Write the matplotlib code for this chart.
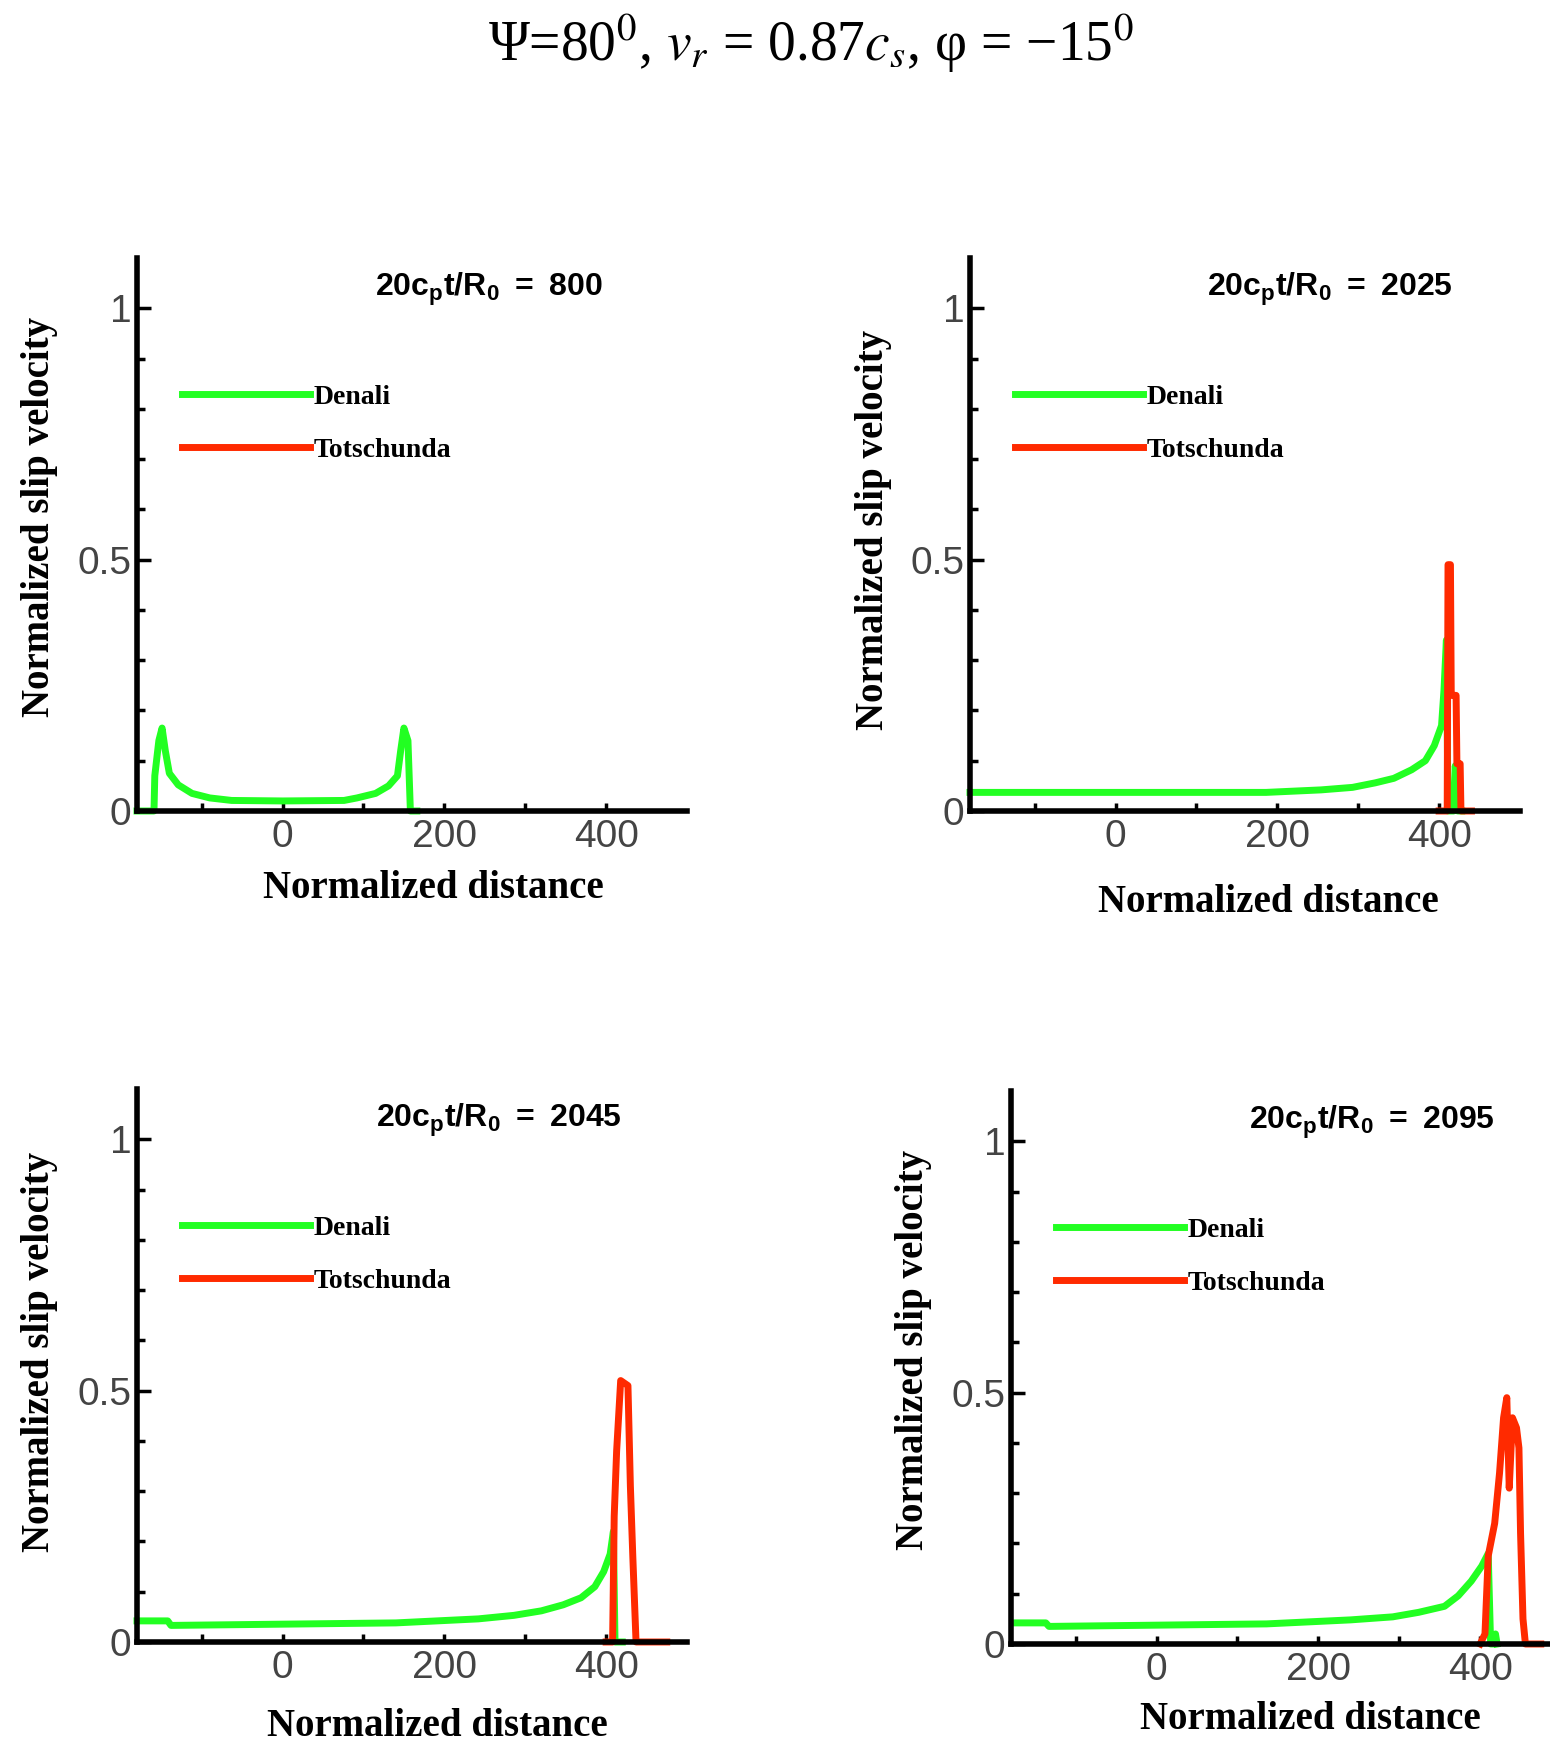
import matplotlib
matplotlib.use("Agg")
import matplotlib.pyplot as plt
from matplotlib.font_manager import FontProperties
from matplotlib.ticker import FixedLocator, FixedFormatter

plt.rcParams["mathtext.fontset"] = "custom"
plt.rcParams["mathtext.rm"] = "Liberation Sans:bold"
plt.rcParams["mathtext.it"] = "Liberation Sans:bold"
plt.rcParams["mathtext.bf"] = "Liberation Sans:bold"

GREEN = "#22ff22"
RED = "#ff2a00"

# --- Data ---
times = [800, 2025, 2045, 2095]

den1_x = [-180, -159, -158, -153, -149, -145, -140, -129, -112, -90, -63, 0, 76,
          92, 115, 131, 142, 146, 150, 155, 158, 166]
den1_y = [0, 0, 0.07, 0.14, 0.165, 0.12, 0.075, 0.052, 0.035, 0.026, 0.021, 0.02,
          0.021, 0.026, 0.035, 0.05, 0.07, 0.12, 0.165, 0.14, 0, 0]
tot1_x = []
tot1_y = []

den2_x = [-180, 186, 254, 293, 321, 344, 366, 383, 394, 403, 406, 409, 411, 418,
          420, 423, 428]
den2_y = [0.037, 0.037, 0.042, 0.047, 0.056, 0.065, 0.082, 0.10, 0.13, 0.17, 0.24,
          0.34, 0.0, 0.0, 0.09, 0.0, 0.0]
tot2_x = [400, 410, 411, 414, 415, 421, 422, 426, 427, 440]
tot2_y = [0, 0, 0.49, 0.49, 0.23, 0.23, 0.094, 0.094, 0, 0]

den3_x = [-180, -142, -138, 140, 242, 286, 320, 347, 369, 386, 397, 405, 409,
          411, 420]
den3_y = [0.042, 0.042, 0.033, 0.038, 0.046, 0.053, 0.062, 0.074, 0.088, 0.11,
          0.14, 0.175, 0.22, 0, 0]
tot3_x = [400, 408, 410, 413, 418, 427, 430, 433, 437, 475]
tot3_y = [0, 0, 0.25, 0.38, 0.52, 0.51, 0.31, 0.17, 0, 0]

den4_x = [-176, -137, -133, 136, 240, 292, 324, 356, 373, 389, 402, 410, 413,
          417, 419, 421]
den4_y = [0.042, 0.042, 0.035, 0.04, 0.048, 0.054, 0.063, 0.075, 0.096, 0.125,
          0.155, 0.18, 0.0, 0.0, 0.02, 0]
tot4_x = [400, 406, 410, 418, 424, 429, 433, 436, 440, 445, 448, 450, 453, 456, 475]
tot4_y = [0, 0.02, 0.175, 0.24, 0.34, 0.45, 0.49, 0.31, 0.45, 0.43, 0.39, 0.22,
          0.05, 0, 0]

denali = [(den1_x, den1_y), (den2_x, den2_y), (den3_x, den3_y), (den4_x, den4_y)]
totschunda = [(tot1_x, tot1_y), (tot2_x, tot2_y), (tot3_x, tot3_y), (tot4_x, tot4_y)]

x_major = [0, 200, 400]
x_minor = [-100, 100, 300]
y_major = [0, 0.5, 1]
y_major_labels = ["0", "0.5", "1"]
y_minor = [0.1, 0.2, 0.3, 0.4, 0.6, 0.7, 0.8, 0.9]

# --- Layout (pixels of the 1550x1742 canvas) ---
W, H = 1550, 1742
panels = [  # left, bottom (px from top), ylabel (x, y), xlabel (x, y), title x
    (137, 811, (-0.178, 0.532), (0.538, -0.141), 0.64),
    (970, 811, (-0.175, 0.508), (0.543, -0.165), 0.655),
    (137, 1642, (-0.178, 0.524), (0.547, -0.152), 0.658),
    (1011, 1644, (-0.178, 0.532), (0.544, -0.137), 0.656),
]
ax_w, ax_h = 550, 553

serif_bold = FontProperties(family="Liberation Serif", weight="bold", size=28)
legend_font = FontProperties(family="Liberation Serif", weight="bold", size=20)

fig = plt.figure(figsize=(W / 100, H / 100), dpi=100)

for i, (left, bot, ylab, xlab, tx_pos) in enumerate(panels):
    ax = fig.add_axes([left / W, 1 - bot / H, ax_w / W, ax_h / H])
    dx, dy = denali[i]
    tx, ty = totschunda[i]
    ax.plot(dx, dy, color=GREEN, lw=5, clip_on=False, label="Denali")
    ax.plot(tx, ty, color=RED, lw=5, clip_on=False, label="Totschunda")

    ax.set_xlim(-180, 500)
    ax.set_ylim(0, 1.1)
    for s in ("top", "right"):
        ax.spines[s].set_visible(False)
    for s in ("left", "bottom"):
        ax.spines[s].set_linewidth(4)

    ax.xaxis.set_major_locator(FixedLocator(x_major))
    ax.xaxis.set_minor_locator(FixedLocator(x_minor))
    ax.yaxis.set_major_locator(FixedLocator(y_major))
    ax.yaxis.set_major_formatter(FixedFormatter(y_major_labels))
    ax.yaxis.set_minor_locator(FixedLocator(y_minor))
    ax.tick_params(which="both", direction="in", width=2.5, colors="black",
                   labelcolor="#444444", labelsize=28)
    ax.tick_params(axis="x", which="both", length=6, pad=6)
    ax.tick_params(axis="y", which="major", length=10, pad=4)
    ax.tick_params(axis="y", which="minor", length=6)
    for lab in ax.get_xticklabels() + ax.get_yticklabels():
        lab.set_fontfamily("Liberation Sans")

    ax.text(ylab[0], ylab[1], "Normalized slip velocity", transform=ax.transAxes,
            rotation=90, ha="center", va="center", fontproperties=serif_bold)
    ax.text(xlab[0], xlab[1], "Normalized distance", transform=ax.transAxes,
            ha="center", va="center", fontproperties=serif_bold)

    ax.text(tx_pos, 0.943, r"$\mathbf{20c_pt/R_0\ =\ %d}$" % times[i],
            transform=ax.transAxes, ha="center", va="center", fontsize=23,
            math_fontfamily="custom")

    ax.legend(loc="upper left", bbox_to_anchor=(0.082, 0.772), frameon=False,
              handlelength=4.6, handletextpad=0.15, labelspacing=1.0,
              borderpad=0, borderaxespad=0, prop=legend_font)

fig.text(0.523, 0.975, r"Ψ=80$^0$, $v_r$ = 0.87$c_s$, φ = −15$^0$",
         ha="center", va="center", fontsize=40, family="Liberation Serif",
         math_fontfamily="stix")

fig.savefig("out.png", dpi=100)
